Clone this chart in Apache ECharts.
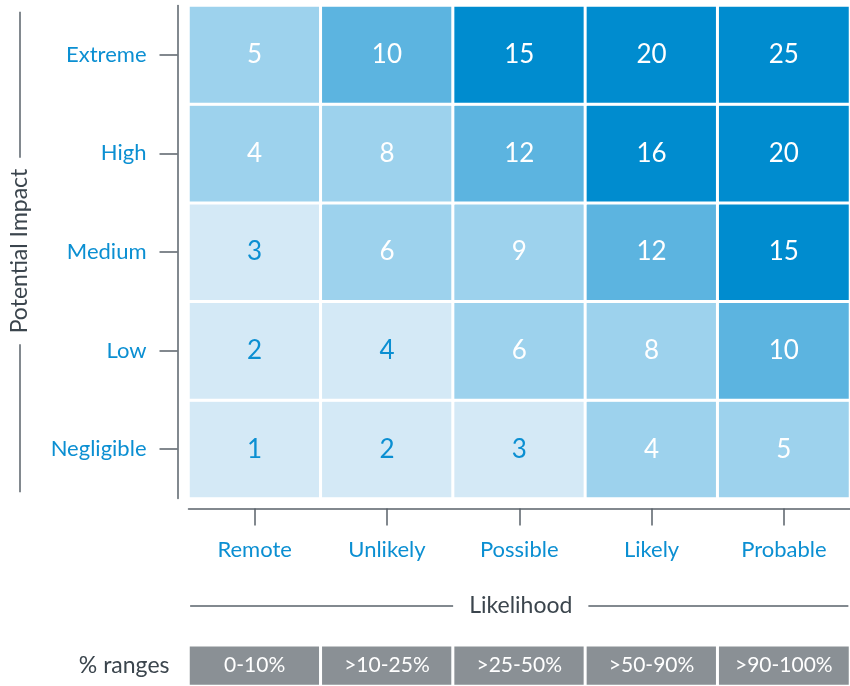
<!DOCTYPE html>
<html>
<head>
<meta charset="utf-8">
<script src="https://cdn.jsdelivr.net/npm/echarts@6/dist/echarts.min.js"></script>
<style>
html,body{margin:0;padding:0;background:#fff;}
#chart{width:850px;height:686px;}
</style>
</head>
<body>
<div id="chart"></div>
<script>
const likelihood = ['Remote', 'Unlikely', 'Possible', 'Likely', 'Probable'];
const impact = ['Negligible', 'Low', 'Medium', 'High', 'Extreme'];
// scores[row = impact index][col = likelihood index]
const scores = [
  [1, 2, 3, 4, 5],
  [2, 4, 6, 8, 10],
  [3, 6, 9, 12, 15],
  [4, 8, 12, 16, 20],
  [5, 10, 15, 20, 25]
];
// shading level of each cell (0 = lightest … 3 = darkest)
const riskLevel = [
  [0, 0, 0, 1, 1],
  [0, 0, 1, 1, 2],
  [0, 1, 1, 2, 3],
  [1, 1, 2, 3, 3],
  [1, 2, 3, 3, 3]
];
const ranges = ['0-10%', '>10-25%', '>25-50%', '>50-90%', '>90-100%'];
const rangesLabel = '% ranges';

const FONT = 'Lato';
const BLUE = '#0b8fd2';
const AXIS = '#59626a';
const levelColors = ['#d4e9f6', '#9dd2ed', '#5cb4e0', '#008ccf'];

const heatData = [];
for (let r = 0; r < impact.length; r++) {
  for (let c = 0; c < likelihood.length; c++) {
    const lv = riskLevel[r][c];
    heatData.push({
      value: [c, r, scores[r][c], lv],
      label: { color: lv === 0 ? BLUE : '#ffffff' }
    });
  }
}
const rangeData = ranges.map((t, i) => [i, 0, i]);

const chart = echarts.init(document.getElementById('chart'));
chart.setOption({
  animation: false,
  textStyle: { fontFamily: FONT },
  grid: [
    { left: 188.5, right: 0, top: 5.5, bottom: 187.5, outerBoundsMode: 'none', containLabel: false },
    { left: 188.5, right: 0, top: 645.2, bottom: 0, outerBoundsMode: 'none', containLabel: false }
  ],
  xAxis: [
    {
      type: 'category', gridIndex: 0, data: likelihood, offset: 10,
      axisLine: { show: true, lineStyle: { color: AXIS, width: 1.5 } },
      axisTick: { show: true, alignWithLabel: true, length: 17, lineStyle: { color: AXIS, width: 1.5 } },
      axisLabel: { color: BLUE, fontSize: 22, margin: 30, fontFamily: FONT },
      splitLine: { show: false },
      name: '{l|}{t|Likelihood}{r|}',
      nameLocation: 'middle', nameGap: 86,
      nameTextStyle: {
        rich: {
          l: { width: 263, height: 1.5, backgroundColor: AXIS, verticalAlign: 'middle' },
          t: { fontSize: 23, color: '#3b454d', padding: [0, 16], fontFamily: FONT, verticalAlign: 'middle' },
          r: { width: 260, height: 1.5, backgroundColor: AXIS, verticalAlign: 'middle' }
        }
      }
    },
    {
      type: 'category', gridIndex: 1, data: ranges, show: false
    }
  ],
  yAxis: [
    {
      type: 'category', gridIndex: 0, data: impact, offset: 11,
      axisLine: { show: true, lineStyle: { color: AXIS, width: 1.5 } },
      axisTick: { show: true, alignWithLabel: true, length: 18, lineStyle: { color: AXIS, width: 1.5 } },
      axisLabel: { color: BLUE, fontSize: 22, margin: 31, fontFamily: FONT },
      splitLine: { show: false },
      name: '{l|}{t|Potential Impact}{r|}',
      nameLocation: 'middle', nameRotate: 90, nameGap: 146,
      nameTextStyle: {
        rich: {
          l: { width: 148, height: 1.5, backgroundColor: AXIS, verticalAlign: 'middle' },
          t: { fontSize: 23, color: '#3b454d', padding: [0, 11], fontFamily: FONT, verticalAlign: 'middle' },
          r: { width: 146, height: 1.5, backgroundColor: AXIS, verticalAlign: 'middle' }
        }
      }
    },
    {
      type: 'category', gridIndex: 1, data: [rangesLabel],
      axisLine: { show: false }, axisTick: { show: false },
      axisLabel: { color: '#3b454d', fontSize: 23, margin: 19, fontFamily: FONT },
      splitLine: { show: false }
    }
  ],
  visualMap: {
    show: false, type: 'piecewise', seriesIndex: 0, dimension: 3,
    pieces: levelColors.map((col, i) => ({ value: i, color: col }))
  },
  series: [
    {
      type: 'heatmap', xAxisIndex: 0, yAxisIndex: 0, data: heatData,
      itemStyle: { borderColor: '#ffffff', borderWidth: 3 },
      label: { show: true, fontSize: 26, fontFamily: FONT, formatter: p => p.value[2] },
      emphasis: { disabled: true }
    },
    {
      type: 'heatmap', xAxisIndex: 1, yAxisIndex: 1, data: rangeData,
      itemStyle: { color: '#8a9095', borderColor: '#ffffff', borderWidth: 3 },
      label: { show: true, color: '#ffffff', fontSize: 21, fontFamily: FONT, formatter: p => ranges[p.value[0]] },
      emphasis: { disabled: true }
    }
  ]
});
</script>
</body>
</html>
